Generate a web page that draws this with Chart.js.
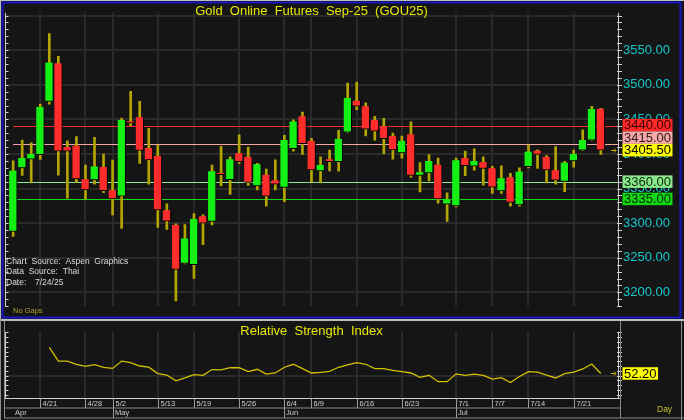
<!DOCTYPE html>
<html>
<head>
<meta charset="utf-8">
<script src="https://cdn.jsdelivr.net/npm/chart.js@4.4.1/dist/chart.umd.min.js"></script>
<style>
  html, body { margin: 0; padding: 0; background: #151515; }
  #wrap { position: relative; width: 684px; height: 420px; overflow: hidden; }
  #wrap canvas { position: absolute; left: 0; }
  #main { top: 0; }
  #rsi { top: 319px; }
</style>
</head>
<body>
<div id="wrap">
  <canvas id="main" width="684" height="319"></canvas>
  <canvas id="rsi" width="684" height="101"></canvas>
</div>
<script>
// daily candles, Gold Sep-25
const open  = [3288, 3380, 3392.5, 3399, 3476, 3531, 3410, 3412, 3363.5, 3362.5, 3381, 3347.5, 3339, 3447, 3453, 3408.5, 3397,
               3318.5, 3297.5, 3242, 3240, 3310, 3302.5, 3372, 3363, 3401, 3396, 3354, 3370, 3362, 3351.5, 3407.5, 3454.5,
               3419, 3375.5, 3392.5, 3389, 3431.5, 3477, 3469, 3449, 3440, 3426, 3401.5, 3428.5, 3369, 3372.5, 3384.5, 3327.5,
               3325, 3394, 3382.5, 3388.5, 3379.5, 3346.5, 3366.5, 3326.5, 3381.5, 3405, 3395.5, 3376.5, 3360.5, 3390, 3405.5,
               3420, 3465.5];
const high  = [3390, 3420, 3416, 3472, 3574, 3541, 3419, 3425, 3384, 3424, 3400, 3391, 3452, 3490.5, 3476, 3437, 3413,
               3328, 3299, 3298, 3314, 3312, 3384, 3411, 3396, 3427.5, 3410, 3386.5, 3378, 3391.5, 3427, 3449.5, 3460.5,
               3422.5, 3396, 3405.5, 3434, 3502.5, 3504, 3474, 3454.5, 3451.5, 3430, 3426, 3446.5, 3387.5, 3399, 3394, 3344,
               3394, 3404, 3407.5, 3396, 3382, 3383, 3372, 3380, 3413, 3406, 3397.5, 3410.5, 3389.5, 3405.5, 3435,
               3469, 3466];
const low   = [3281, 3369, 3358, 3392, 3472, 3369.5, 3336, 3359, 3334.5, 3356.5, 3344, 3312, 3292.5, 3441, 3386.5, 3356.5, 3294,
               3291, 3187.5, 3241, 3220, 3269, 3297.5, 3354, 3341.5, 3386.5, 3354.5, 3348, 3324.5, 3348, 3331, 3404, 3399.5,
               3359.5, 3358, 3375.5, 3375, 3431, 3464, 3426, 3420, 3400.5, 3392.5, 3394, 3366.5, 3345, 3361, 3329, 3302.5,
               3323.5, 3368.5, 3376.5, 3355, 3343, 3343, 3324.5, 3324.5, 3380, 3379, 3358, 3356.5, 3345.5, 3381, 3405,
               3419.5, 3399.5];
const close = [3376, 3394, 3400, 3468, 3532, 3404, 3404, 3364, 3348, 3382, 3347, 3335, 3449, 3444.5, 3405, 3391.5, 3319,
               3303, 3233, 3278, 3306, 3300, 3375, 3370, 3392.5, 3389, 3359, 3385, 3339, 3356.5, 3420, 3447, 3415,
               3377, 3384, 3389, 3422, 3481, 3469, 3436, 3433, 3422, 3406, 3419, 3369, 3373.5, 3390, 3335, 3334.5,
               3391, 3383, 3390, 3379, 3352, 3365, 3330, 3374.5, 3403.5, 3399.5, 3377, 3362, 3387.5, 3400, 3420,
               3465, 3405.5];

// RSI starts at the 5th candle
const rsiStart = 4;
const rsi = [79.4, 65.1, 65.1, 61.8, 59.7, 61.5, 58.5, 57.5, 65.1, 63.6, 60, 58.8, 52.1, 50.6, 44.5, 47.5, 50.9, 50.3,
             56.3, 56, 58.2, 58.2, 54.2, 56.6, 51.5, 52.7, 58.7, 61.8, 57.3, 52.7, 53.3, 54.5, 58.7, 61.2, 63.6, 61.8,
             57.3, 57.3, 55.4, 54.2, 52.7, 48.2, 50.3, 43.6, 43.6, 51.8, 50.3, 51.5, 50.3, 46.3, 47.8, 42.7, 49.1, 54.2,
             53.6, 50.6, 47.5, 52.1, 53.6, 56.9, 62.1, 52.2];

// date axis
const tickPos    = [3, 8, 11, 16, 20, 25, 30, 33, 38, 43, 49, 53, 57, 62];
const tickLabels = ['4/21', '4/28', '5/2', '5/13', '5/19', '5/26', '6/4', '6/9', '6/16', '6/23', '7/1', '7/7', '7/14', '7/21'];
const monthPos   = [0, 11, 30, 49];
const monthNames = ['Apr', 'May', 'Jun', 'Jul'];

// horizontal levels
const levels = [3440, 3415, 3360, 3335];

// ---- look ----
const levelColors = ['#ff2828', '#f4a8a8', '#8ce88c', '#14d814'];
const levelInk = ['#3a0000', '#2a1a1a', '#0a2a0a', '#002400'];
const gridColor = '#2a2a2a';
const upColor = '#14f014';
const downColor = '#ff2c2c';
const wickColor = '#b4a600';
const cyan = '#14c8cc';
const yellow = '#e8e800';
const tickInk = '#cfcfcf';
const sans = "'Liberation Sans', Arial, sans-serif";
const xMin = -0.9, xMax = 66.9;

const line = (ctx, x1, y1, x2, y2) => {
    ctx.beginPath();
    ctx.moveTo(x1, y1);
    ctx.lineTo(x2, y2);
    ctx.stroke();
}

const sideTicks = (ctx, a, y, step, min, max) => {
    ctx.strokeStyle = tickInk;
    ctx.lineWidth = 1;
    line(ctx, a.left + 0.5, a.top, a.left + 0.5, a.bottom);
    line(ctx, a.right + 0.5, a.top, a.right + 0.5, a.bottom);
    for (let v = Math.ceil(min / step) * step; v <= max; v += step) {
        const py = Math.round(y.getPixelForValue(v)) + 0.5;
        line(ctx, a.left, py, a.left + 3.5, py);
        line(ctx, a.right - 1, py, a.right + 4, py);
    }
}

const arrowMark = (ctx, px, py) => {
    ctx.strokeStyle = '#c0b000';
    ctx.lineWidth = 1;
    line(ctx, px - 3, py, px + 2, py);
    line(ctx, px, py - 2, px + 2, py);
    line(ctx, px, py + 2, px + 2, py);
}

const priceBox = (ctx, left, cy, text, fill, ink) => {
    ctx.font = "13px " + sans;
    const w = ctx.measureText(text).width + 3;
    ctx.fillStyle = fill;
    ctx.fillRect(left, cy - 6.25, w, 12.5);
    ctx.fillStyle = ink;
    ctx.textAlign = 'left';
    ctx.textBaseline = 'middle';
    ctx.fillText(text, left + 1.5, cy + 0.5);
}

const mainDeco = {
    id: 'mainDeco',
    beforeDatasetsDraw(chart) {
        const { ctx, chartArea: a, scales: { x, y } } = chart;
        ctx.save();
        ctx.lineWidth = 1;
        levels.forEach((v, k) => {
            const py = Math.round(y.getPixelForValue(v)) + 0.5;
            ctx.strokeStyle = levelColors[k];
            line(ctx, x.getPixelForValue(0), py, a.right, py);
        });
        ctx.restore();
    },
    afterDraw(chart) {
        const { ctx, chartArea: a, scales: { y } } = chart;
        ctx.save();
        sideTicks(ctx, a, y, 10, y.min, y.max);

        // titles and notes
        ctx.font = "13px " + sans;
        ctx.fillStyle = yellow;
        ctx.textAlign = 'center';
        ctx.textBaseline = 'middle';
        ctx.fillText('Gold  Online  Futures  Sep-25  (GOU25)', (a.left + a.right) / 2, 11);

        ctx.textAlign = 'left';
        ctx.font = "8.5px " + sans;
        ctx.fillStyle = '#dcdcdc';
        ctx.fillText('Chart  Source:  Aspen  Graphics', a.left + 1, 262);
        ctx.fillText('Data  Source:  Thai', a.left + 1, 272);
        ctx.fillText('Date:', a.left + 1, 282.5);
        ctx.fillText('7/24/25', a.left + 30, 282.5);
        ctx.font = "7.5px " + sans;
        ctx.fillStyle = '#a8a030';
        ctx.fillText('No Gaps', a.left + 8, 311);

        // right side price boxes, last price stays put, others slide away
        const last = close[close.length - 1];
        const lastY = y.getPixelForValue(last);
        const items = levels.map((v, k) => ({ v, k, cy: y.getPixelForValue(v) }));
        const h = 12.5;
        let limit = lastY - h / 2;
        items.filter(it => it.cy <= lastY).sort((p, q) => q.cy - p.cy).forEach(it => {
            if (it.cy + h / 2 > limit) it.cy = limit - h / 2;
            limit = it.cy - h / 2;
        });
        limit = lastY + h / 2;
        items.filter(it => it.cy > lastY).sort((p, q) => p.cy - q.cy).forEach(it => {
            if (it.cy - h / 2 < limit) it.cy = limit + h / 2;
            limit = it.cy + h / 2;
        });
        const boxLeft = a.right + 4.5;
        items.forEach(it => priceBox(ctx, boxLeft, it.cy, it.v.toFixed(2), levelColors[it.k], levelInk[it.k]));
        priceBox(ctx, boxLeft, lastY, last.toFixed(2), '#ffff00', '#000');
        arrowMark(ctx, a.right - 4, Math.round(lastY) + 0.5);

        // frame
        ctx.strokeStyle = '#bdbdbd';
        ctx.lineWidth = 1;
        line(ctx, 0, 0.5, 684, 0.5);
        line(ctx, 0.5, 0, 0.5, 319);
        ctx.strokeStyle = '#1818c0';
        ctx.lineWidth = 2;
        ctx.strokeRect(2.6, 2.5, 677.8, 315);
        ctx.restore();
    }
};

new Chart(document.getElementById('main'), {
    type: 'bar',
    data: {
        datasets: [
            {
                label: 'body',
                data: close.map((c, i) => ({ x: i, y: [open[i], c] })),
                backgroundColor: close.map((c, i) => c >= open[i] ? upColor : downColor),
                borderColor: '#000',
                borderWidth: { top: 0, left: 0, right: 1, bottom: 1 },
                borderSkipped: false,
                barThickness: 8,
                minBarLength: 2,
                grouped: false,
                order: 0
            },
            {
                label: 'wick',
                data: close.map((c, i) => ({ x: i, y: [low[i], high[i]] })),
                backgroundColor: wickColor,
                barThickness: 2,
                grouped: false,
                order: 1
            }
        ]
    },
    options: {
        responsive: false,
        animation: false,
        events: [],
        layout: { autoPadding: false, padding: { left: 5, right: 4, top: 5, bottom: 6 } },
        plugins: { legend: { display: false }, tooltip: { enabled: false } },
        scales: {
            x: {
                type: 'linear', min: xMin, max: xMax, offset: false,
                afterBuildTicks: (s) => { s.ticks = tickPos.map(v => ({ value: v })); },
                ticks: { display: false },
                grid: { color: gridColor, lineWidth: 2, drawTicks: false, offset: false },
                border: { display: false }
            },
            y: {
                position: 'right', min: 3180, max: 3604,
                afterFit: (s) => { s.width = 62; },
                ticks: {
                    stepSize: 50, includeBounds: false, padding: 5, color: cyan,
                    font: { family: sans, size: 13 },
                    callback: v => v >= 3600 ? '' : v.toFixed(2)
                },
                grid: { color: gridColor, lineWidth: 2, drawTicks: false },
                border: { display: false }
            }
        }
    },
    plugins: [mainDeco]
});

const rsiDeco = {
    id: 'rsiDeco',
    afterDraw(chart) {
        const { ctx, chartArea: a, scales: { x, y } } = chart;
        ctx.save();
        sideTicks(ctx, a, y, 5, y.min, y.max);

        ctx.font = "13px " + sans;
        ctx.fillStyle = yellow;
        ctx.textAlign = 'center';
        ctx.textBaseline = 'middle';
        ctx.fillText('Relative  Strength  Index', (a.left + a.right) / 2, 12.5);

        const last = rsi[rsi.length - 1];
        const lastY = y.getPixelForValue(last);
        priceBox(ctx, a.right + 4.5, lastY, last.toFixed(2), '#ffff00', '#000');
        arrowMark(ctx, a.right - 4, Math.round(lastY) + 0.5);

        // date axis rows
        const r0 = a.bottom + 0.5, r1 = r0 + 9.5, r2 = r1 + 10;
        ctx.lineWidth = 1;
        ctx.strokeStyle = '#d0d0d0';
        line(ctx, 4, r0, a.right + 3, r0);
        ctx.strokeStyle = '#8a8a8a';
        line(ctx, 4, r1, a.right + 3, r1);
        line(ctx, 4, r2, 684, r2);
        ctx.textAlign = 'left';
        ctx.font = "7.5px " + sans;
        ctx.fillStyle = tickInk;
        tickPos.forEach((p, k) => {
            const px = Math.round(x.getPixelForValue(p)) + 0.5;
            ctx.strokeStyle = '#9a9a9a';
            line(ctx, px, r0, px, r1);
            ctx.fillText(tickLabels[k], px + 2, r0 + 5);
        });
        monthPos.forEach((p, k) => {
            const px = Math.round(x.getPixelForValue(p)) + 0.5;
            if (k > 0) {
                ctx.strokeStyle = '#9a9a9a';
                line(ctx, px, r0, px, r2);
            }
            ctx.fillText(monthNames[k], px + 1.5, r1 + 5);
        });
        ctx.font = "8.5px " + sans;
        ctx.fillStyle = '#c8c030';
        ctx.fillText('Day', 657, r1 + 2);

        // frame
        ctx.strokeStyle = '#bdbdbd';
        ctx.lineWidth = 2;
        line(ctx, 0, 1, 684, 1);
        ctx.lineWidth = 1;
        ctx.strokeStyle = '#8a8a8a';
        line(ctx, 4.5, 2, 4.5, r2);
        line(ctx, a.right + 2.5, 2, a.right + 2.5, r2);
        line(ctx, 681.5, 2, 681.5, 101);
        line(ctx, 0.5, 0, 0.5, 101);
        ctx.restore();
    }
};

new Chart(document.getElementById('rsi'), {
    type: 'line',
    data: {
        datasets: [{
            label: 'RSI',
            data: rsi.map((v, k) => ({ x: rsiStart + k, y: v })),
            borderColor: '#d2c200',
            borderWidth: 1.3,
            pointRadius: 0,
            tension: 0
        }]
    },
    options: {
        responsive: false,
        animation: false,
        events: [],
        layout: { autoPadding: false, padding: { left: 5, right: 4, top: 3, bottom: 22 } },
        plugins: { legend: { display: false }, tooltip: { enabled: false } },
        scales: {
            x: {
                type: 'linear', min: xMin, max: xMax, offset: false,
                afterBuildTicks: (s) => { s.ticks = tickPos.map(v => ({ value: v })); },
                ticks: { display: false },
                grid: { color: gridColor, lineWidth: 2, drawTicks: false },
                border: { display: false }
            },
            y: {
                position: 'right', min: 26.6, max: 95.7,
                afterFit: (s) => { s.width = 62; },
                afterBuildTicks: (s) => { s.ticks = [{ value: 50 }]; },
                ticks: {
                    padding: 5, color: cyan, font: { family: sans, size: 13 },
                    callback: v => v.toFixed(2)
                },
                grid: { color: gridColor, lineWidth: 2, drawTicks: false },
                border: { display: false }
            }
        }
    },
    plugins: [rsiDeco]
});
</script>
</body>
</html>
